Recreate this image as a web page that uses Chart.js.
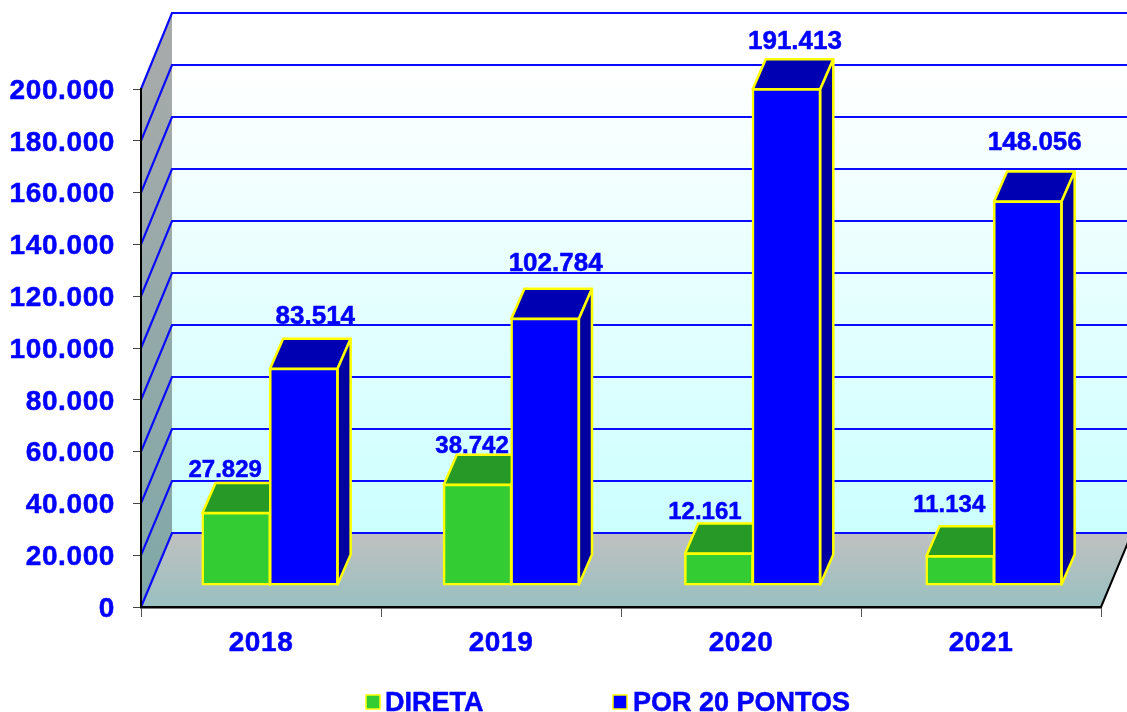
<!DOCTYPE html>
<html>
<head>
<meta charset="utf-8">
<style>html,body{margin:0;padding:0;background:#fff;overflow:hidden}canvas{display:block}</style>
<script src="https://cdn.jsdelivr.net/npm/chart.js@4"></script>
</head>
<body>
<canvas id="c" width="1127" height="712"></canvas>
<script>
const categories = ['2018', '2019', '2020', '2021'];
const direta = [27829, 38742, 12161, 11134];
const por20Pontos = [83514, 102784, 191413, 148056];
const yTicks = [0, 20000, 40000, 60000, 80000, 100000, 120000, 140000, 160000, 180000, 200000];

const FONT = '"Liberation Sans", Arial, sans-serif';
const fmt = v => String(v).replace(/\B(?=(\d{3})+$)/g, '.');

// 3D projection settings
const wallDepth = { x: 31, y: -74, stretch: 520 / 518 };
const barDepth = { x: 13, y: -30 };
const barPlane = { scaleX: 1.00556, shiftX: 7.55, shiftY: -22 };
// label nudges relative to the top-back of each bar
const labelNudge = [
  [[-11, -6], [-5.5, -2], [-14, -5], [-11, -14]],
  [[11.5, -15], [10.5, -18], [8.5, -10], [7, -22]]
];
const seriesStyle = [
  { front: '#33cc33', top: '#269926', side: '#269926', labelSize: 24 },
  { front: '#0000ff', top: '#0000b3', side: '#0000a0', labelSize: 26 }
];

const scene3d = {
  id: 'scene3d',
  beforeDraw(chart) {
    const { ctx, chartArea: a, scales: { y } } = chart;
    ctx.letterSpacing = '0.6px';
    const x0 = a.left, x1 = a.right, y0 = y.getPixelForValue(0), yT = y.getPixelForValue(200000);
    const dx = wallDepth.x, dy = wallDepth.y;
    const back = p => y0 + dy - (y0 - p) * wallDepth.stretch;
    ctx.save();
    // back wall
    let g = ctx.createLinearGradient(0, back(yT), 0, back(y0));
    g.addColorStop(0, '#ffffff'); g.addColorStop(0.1, '#ffffff'); g.addColorStop(1, '#ccffff');
    ctx.fillStyle = g;
    ctx.fillRect(x0 + dx, back(yT), x1 - x0, back(y0) - back(yT));
    // side wall
    g = ctx.createLinearGradient(x0, back(yT), x0 + dx, y0);
    g.addColorStop(0, '#aaaaaa'); g.addColorStop(1, '#80a8a8');
    ctx.fillStyle = g;
    ctx.beginPath();
    ctx.moveTo(x0, yT); ctx.lineTo(x0 + dx, back(yT)); ctx.lineTo(x0 + dx, back(y0)); ctx.lineTo(x0, y0);
    ctx.closePath(); ctx.fill();
    // floor
    g = ctx.createLinearGradient(0, back(y0), 0, y0);
    g.addColorStop(0, '#c0c0c0'); g.addColorStop(1, '#99c0c0');
    ctx.fillStyle = g;
    ctx.beginPath();
    ctx.moveTo(x0, y0); ctx.lineTo(x0 + dx, back(y0)); ctx.lineTo(x1 + dx, back(y0)); ctx.lineTo(x1, y0);
    ctx.closePath(); ctx.fill();
    // grid lines
    ctx.strokeStyle = '#0a0aff'; ctx.lineWidth = 2.2;
    yTicks.forEach(t => {
      const p = y.getPixelForValue(t);
      ctx.beginPath();
      ctx.moveTo(x0, p); ctx.lineTo(x0 + dx, back(p)); ctx.lineTo(x1 + dx, back(p));
      ctx.stroke();
    });
    // right floor edge
    ctx.strokeStyle = '#000'; ctx.lineWidth = 2;
    ctx.beginPath(); ctx.moveTo(x1, y0); ctx.lineTo(x1 + dx, back(y0)); ctx.stroke();
    ctx.restore();
  },
  beforeDatasetsDraw(chart) {
    const { ctx } = chart;
    ctx.save();
    ctx.transform(barPlane.scaleX, 0, 0, 1, barPlane.shiftX, barPlane.shiftY);
    const dx = barDepth.x, dy = barDepth.y;
    ctx.strokeStyle = '#ffff00'; ctx.lineWidth = 2.5; ctx.lineJoin = 'round';
    chart.data.datasets.forEach((ds, i) => {
      chart.getDatasetMeta(i).data.forEach(el => {
        const p = el.getProps(['x', 'y', 'base', 'width'], true);
        const l = p.x - p.width / 2, r = p.x + p.width / 2, t = p.y, b = p.base;
        ctx.fillStyle = seriesStyle[i].top;
        ctx.beginPath();
        ctx.moveTo(l, t); ctx.lineTo(l + dx, t + dy); ctx.lineTo(r + dx, t + dy); ctx.lineTo(r, t);
        ctx.closePath(); ctx.fill(); ctx.stroke();
        ctx.fillStyle = seriesStyle[i].side;
        ctx.beginPath();
        ctx.moveTo(r, t); ctx.lineTo(r + dx, t + dy); ctx.lineTo(r + dx, b + dy); ctx.lineTo(r, b);
        ctx.closePath(); ctx.fill(); ctx.stroke();
      });
    });
  },
  afterDatasetsDraw(chart) {
    const { ctx } = chart;
    ctx.restore();
    // value labels
    ctx.save();
    ctx.letterSpacing = '0px';
    ctx.fillStyle = '#0000ff';
    ctx.strokeStyle = '#0000ff';
    ctx.lineWidth = 0.5;
    ctx.lineJoin = 'round';
    ctx.textAlign = 'center';
    ctx.textBaseline = 'alphabetic';
    chart.data.datasets.forEach((ds, i) => {
      ctx.font = 'bold ' + seriesStyle[i].labelSize + 'px ' + FONT;
      chart.getDatasetMeta(i).data.forEach((el, j) => {
        const p = el.getProps(['x', 'y'], true);
        const px = p.x * barPlane.scaleX + barPlane.shiftX + labelNudge[i][j][0];
        const py = p.y + barPlane.shiftY + barDepth.y + labelNudge[i][j][1];
        ctx.fillText(fmt(ds.data[j]), px, py);
        ctx.strokeText(fmt(ds.data[j]), px, py);
      });
    });
    // legend
    ctx.font = 'bold 27px ' + FONT;
    ctx.textAlign = 'left';
    const lg = [[366, 385], [613, 633]];
    chart.data.datasets.forEach((ds, i) => {
      ctx.fillStyle = seriesStyle[i].front;
      ctx.strokeStyle = '#ffff00'; ctx.lineWidth = 1.5;
      ctx.fillRect(lg[i][0], 695, 14, 14);
      ctx.strokeRect(lg[i][0], 695, 14, 14);
      ctx.fillStyle = '#0000ff';
      ctx.strokeStyle = '#0000ff'; ctx.lineWidth = 0.5;
      ctx.fillText(ds.label, lg[i][1], 711);
      ctx.strokeText(ds.label, lg[i][1], 711);
    });
    ctx.restore();
  }
};

const tickFont = { family: FONT, size: 28, weight: 'bold' };

new Chart(document.getElementById('c'), {
  type: 'bar',
  data: {
    labels: categories,
    datasets: [
      { label: 'DIRETA', data: direta, backgroundColor: seriesStyle[0].front, borderColor: '#ffff00', borderWidth: 2.5, borderSkipped: false, inflateAmount: 1, clip: false },
      { label: 'POR 20 PONTOS', data: por20Pontos, backgroundColor: seriesStyle[1].front, borderColor: '#ffff00', borderWidth: 2.5, borderSkipped: false, inflateAmount: 1, clip: false }
    ]
  },
  options: {
    responsive: false,
    animation: false,
    events: [],
    layout: { padding: { top: 89, right: 26, left: 0, bottom: 0 } },
    datasets: { bar: { categoryPercentage: 0.56, barPercentage: 1 } },
    plugins: { legend: { display: false }, tooltip: { enabled: false } },
    scales: {
      x: {
        afterFit(s) { s.height = 105; },
        grid: { drawOnChartArea: false, color: '#555', lineWidth: 1, tickLength: 10 },
        border: { color: '#000', width: 2.5 },
        ticks: { color: '#0000ff', padding: 9, font: tickFont, maxRotation: 0, textStrokeColor: '#0000ff', textStrokeWidth: 0.5 }
      },
      y: {
        min: 0, max: 200000,
        afterFit(s) { s.width = 141; },
        afterBuildTicks(s) { s.ticks = yTicks.map(v => ({ value: v })); },
        grid: { drawOnChartArea: false, color: '#444', lineWidth: 1, tickLength: 8 },
        border: { color: '#000', width: 2 },
        ticks: { color: '#0000ff', padding: 18, labelOffset: 2, callback: v => fmt(v), font: tickFont, textStrokeColor: '#0000ff', textStrokeWidth: 0.5 }
      }
    }
  },
  plugins: [scene3d]
});
</script>
</body>
</html>
